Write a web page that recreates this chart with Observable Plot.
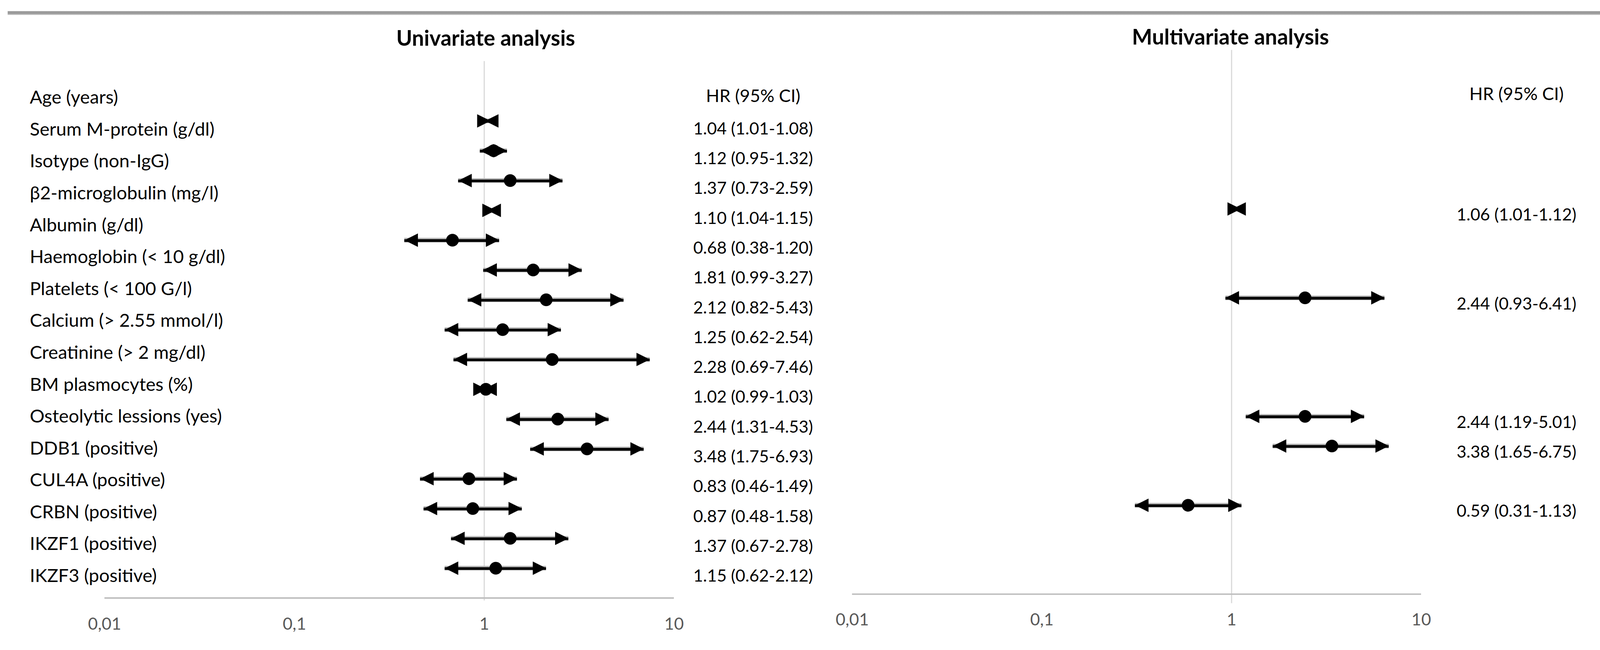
<!DOCTYPE html>
<html>
<head>
<meta charset="utf-8">
<script src="https://cdn.jsdelivr.net/npm/d3@7"></script>
<script src="https://cdn.jsdelivr.net/npm/@observablehq/plot@0.6"></script>
<style>
html, body { margin: 0; padding: 0; background: #fff; overflow: hidden; }
#wrap { position: relative; width: 4167px; height: 1663px; background: #fff; overflow: hidden; transform-origin: 0 0; }
.layer { position: absolute; top: 0; }
.toprule { position: absolute; left: 20px; right: 0; top: 29px; height: 10px;
  background: linear-gradient(#999 0%, #9c9c9c 65%, #d4d4d4 100%); }
</style>
</head>
<body>
<div id="wrap"><div class="toprule"></div></div>
<script>
// ---------- data ----------
const variables = [
  "Age (years)", "Serum M-protein (g/dl)", "Isotype (non-IgG)", "β2-microglobulin (mg/l)",
  "Albumin (g/dl)", "Haemoglobin (< 10 g/dl)", "Platelets (< 100 G/l)", "Calcium (> 2.55 mmol/l)",
  "Creatinine (> 2 mg/dl)", "BM plasmocytes (%)", "Osteolytic lessions (yes)", "DDB1 (positive)",
  "CUL4A (positive)", "CRBN (positive)", "IKZF1 (positive)", "IKZF3 (positive)"
];
const uniHR = [1.04, 1.12, 1.37, 1.10, 0.68, 1.81, 2.12, 1.25, 2.28, 1.02, 2.44, 3.48, 0.83, 0.87, 1.37, 1.15];
const uniLo = [1.01, 0.95, 0.73, 1.04, 0.38, 0.99, 0.82, 0.62, 0.69, 0.99, 1.31, 1.75, 0.46, 0.48, 0.67, 0.62];
const uniHi = [1.08, 1.32, 2.59, 1.15, 1.20, 3.27, 5.43, 2.54, 7.46, 1.03, 4.53, 6.93, 1.49, 1.58, 2.78, 2.12];

const multiVariables = ["β2-microglobulin (mg/l)", "Platelets (< 100 G/l)", "Osteolytic lessions (yes)", "DDB1 (positive)", "CRBN (positive)"];
const multiHR = [1.06, 2.44, 2.44, 3.38, 0.59];
const multiLo = [1.01, 0.93, 1.19, 1.65, 0.31];
const multiHi = [1.12, 6.41, 5.01, 6.75, 1.13];

const xTicks = [0.01, 0.1, 1, 10];
const headerLabel = "HR (95% CI)";
const panelTitles = ["Univariate analysis", "Multivariate analysis"];
// rows whose point estimate dot is not visible in the source figure
const noPointMarker = ["Age (years)", "β2-microglobulin (mg/l)"];

// ---------- helpers ----------
const fmt = v => v.toFixed(2);
const rowsOf = (names, hr, lo, hi) => names.map((v, i) => ({
  v, row: variables.indexOf(v), hr: hr[i], lo: lo[i], hi: hi[i],
  text: `${fmt(hr[i])} (${fmt(lo[i])}-${fmt(hi[i])})`
}));
const uniData = rowsOf(variables, uniHR, uniLo, uniHi);
const multiData = rowsOf(multiVariables, multiHR, multiLo, multiHi);

const arrowLeft = { draw(ctx, size) { const s = Math.sqrt(size / Math.PI);
  ctx.moveTo(0, 0); ctx.lineTo(2 * s, -s); ctx.lineTo(2 * s, s); ctx.closePath(); } };
const arrowRight = { draw(ctx, size) { const s = Math.sqrt(size / Math.PI);
  ctx.moveTo(0, 0); ctx.lineTo(-2 * s, -s); ctx.lineTo(-2 * s, s); ctx.closePath(); } };

const FONT = "Lato, 'Open Sans', 'DejaVu Sans', sans-serif";

function panel(o) {
  const d = o.data;
  return Plot.plot({
    width: o.width, height: 1663,
    marginLeft: o.marginLeft, marginRight: o.marginRight,
    marginTop: o.marginTop, marginBottom: o.marginBottom,
    style: { background: "transparent", fontFamily: FONT, fontSize: "44px", color: "#595959", overflow: "visible", maxWidth: "none" },
    x: { type: "log", domain: [0.01, 10], ticks: xTicks, tickSize: 0, tickPadding: o.tickPadding,
         tickFormat: t => String(t).replace(".", ","), label: null },
    y: { domain: o.yDomain, reverse: true, axis: null },
    marks: [
      Plot.ruleX([1], { stroke: "#d9d9d9", strokeWidth: 3, insetBottom: o.refInsetBottom }),
      Plot.ruleY([o.yDomain[1]], { stroke: "#bfbfbf", strokeWidth: 4 }),
      Plot.ruleY(d, { y: "row", x1: "lo", x2: "hi", stroke: "#b4b4b4", strokeWidth: 12 }),
      Plot.ruleY(d, { y: "row", x1: "lo", x2: "hi", stroke: "black", strokeWidth: 7, dy: 1 }),
      Plot.dot(d, { x: "lo", y: "row", symbol: arrowLeft, r: 17.5, fill: "black", stroke: "none" }),
      Plot.dot(d, { x: "hi", y: "row", symbol: arrowRight, r: 17.5, fill: "black", stroke: "none" }),
      Plot.dot(d.filter(r => !noPointMarker.includes(r.v)), { x: "hr", y: "row", r: 16.5, fill: "black", stroke: "none" }),
      Plot.text(d, { y: "row", text: "text", frameAnchor: "right", textAnchor: "middle", lineAnchor: "middle",
        dx: o.textDx, dy: o.textDy, fontSize: 44, fill: "black" }),
      Plot.text([headerLabel], { y: () => -1, text: t => t, frameAnchor: "right", textAnchor: "middle", lineAnchor: "middle",
        dx: o.textDx, dy: o.headDy, fontSize: 46, fill: "black" }),
      Plot.text([o.title], { text: t => t, frameAnchor: "top", textAnchor: "middle", lineAnchor: "middle",
        dx: o.titleDx, dy: o.titleDy, fontSize: 56, fontWeight: "bold", fill: "black" })
    ]
  });
}

const uni = panel({
  data: uniData, width: 2090, marginLeft: 272, marginRight: 335, marginTop: 159, marginBottom: 107,
  yDomain: [-2, 16], refInsetBottom: -7, tickPadding: 51,
  textDx: 206, textDy: 21, headDy: 14, title: panelTitles[0], titleDx: 251, titleDy: -58
});
const multi = panel({
  data: multiData, width: 2077, marginLeft: 129, marginRight: 466, marginTop: 130, marginBottom: 117,
  yDomain: [-2.36, 16], refInsetBottom: -24, tickPadding: 50,
  textDx: 248, textDy: 16, headDy: 10, title: panelTitles[1], titleDx: 244, titleDy: -32
});
const labels = Plot.plot({
  width: 900, height: 1663, marginLeft: 77, marginRight: 0, marginTop: 0, marginBottom: 0,
  style: { background: "transparent", fontFamily: FONT, overflow: "visible", maxWidth: "none" },
  y: { type: "point", domain: variables, range: [253, 1500], padding: 0, axis: null },
  marks: [
    Plot.text(variables, { y: v => v, text: v => v, frameAnchor: "left", textAnchor: "start", lineAnchor: "middle",
      fontSize: 48, fill: "black" })
  ]
});

const wrap = document.getElementById("wrap");
function place(node, left) {
  const div = document.createElement("div");
  div.className = "layer";
  div.style.left = left + "px";
  div.appendChild(node);
  wrap.appendChild(div);
}
place(uni, 0);
place(multi, 2090);
place(labels, 0);

// fit the 4167×1663 drawing to the actual viewport
function fit() {
  const s = Math.min(window.innerWidth / 4167, window.innerHeight / 1663);
  wrap.style.transform = `scale(${s})`;
}
fit();
window.addEventListener("resize", fit);
</script>
</body>
</html>
